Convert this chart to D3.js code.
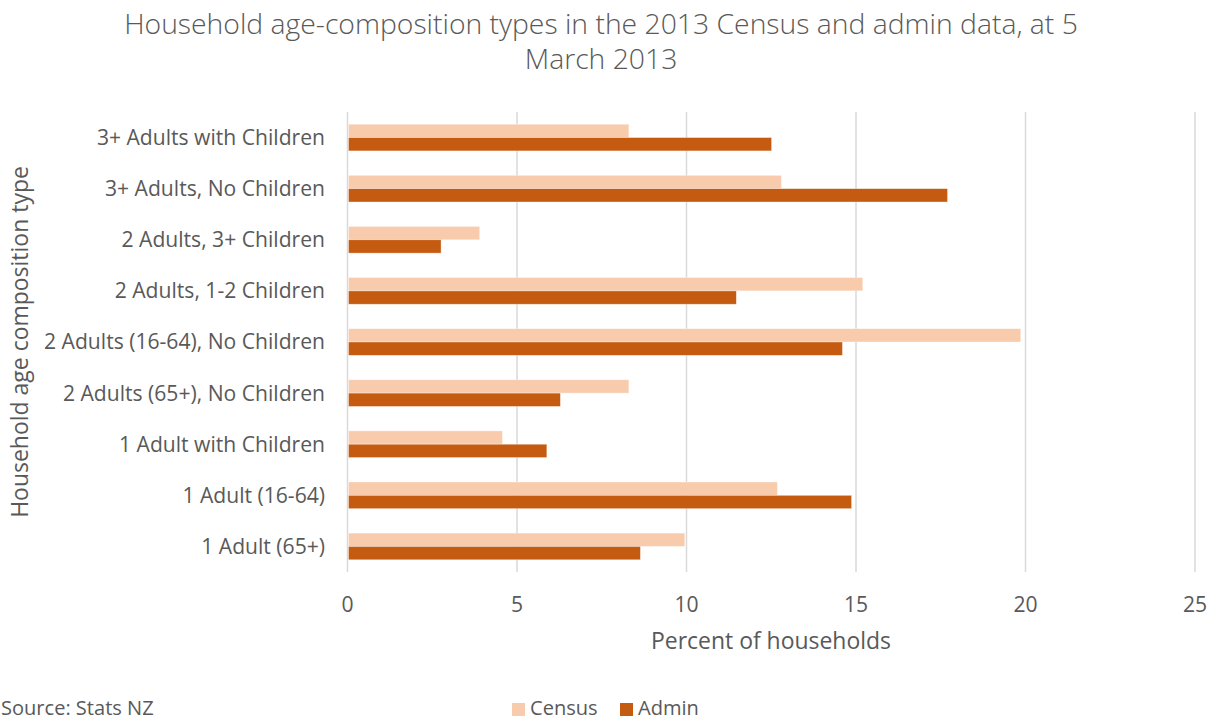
<!DOCTYPE html>
<html><head><meta charset="utf-8">
<script src="https://cdn.jsdelivr.net/npm/d3@7"></script>
<style>body{margin:0;background:#fff}svg{display:block}</style>
</head><body>
<svg id="c" width="1217" height="722"></svg>
<script>
const categories = ["3+ Adults with Children","3+ Adults, No Children","2 Adults, 3+ Children","2 Adults, 1-2 Children","2 Adults (16-64), No Children","2 Adults (65+), No Children","1 Adult with Children","1 Adult (16-64)","1 Adult (65+)"];
const census = [8.3, 12.8, 3.9, 15.2, 19.86, 8.3, 4.57, 12.68, 9.95];
const admin  = [12.51, 17.7, 2.76, 11.47, 14.6, 6.28, 5.88, 14.87, 8.64];
const seriesNames = ["Census","Admin"];
const xTicks = [0,5,10,15,20,25];
const colors = {Census:"#F8CBAD", Admin:"#C55A11"};
const FONT = "'Open Sans', sans-serif";
const TXT = "#595959";

const svg = d3.select("#c");
const m = {l:347.5, r:1195, t:112, b:572};
const x = d3.scaleLinear().domain([0,25]).range([m.l, m.r]);
const y = d3.scaleBand().domain(categories).range([m.t, m.b]).paddingInner(0.478).paddingOuter(0.239);
const ys = d3.scaleBand().domain(seriesNames).range([0, y.bandwidth()]);

function fit(sel, target){
  const w = sel.node().getComputedTextLength();
  const fs = parseFloat(sel.attr("font-size"));
  sel.attr("font-size", fs*target/w);
  return fs*target/w;
}

// gridlines
svg.append("g").selectAll("line").data(xTicks).join("line")
  .attr("x1", d=>x(d)).attr("x2", d=>x(d)).attr("y1", m.t).attr("y2", m.b)
  .attr("stroke","#D9D9D9").attr("stroke-width",1.5);

// bars
const data = categories.map((c,i)=>({c, vals:[{s:"Census",v:census[i]},{s:"Admin",v:admin[i]}]}));
const g = svg.append("g");
g.selectAll("g").data(data).join("g")
  .attr("transform", d=>`translate(0,${y(d.c)})`)
  .selectAll("rect").data(d=>d.vals).join("rect")
  .attr("x", x(0)+1).attr("y", d=>ys(d.s))
  .attr("width", d=>x(d.v)-x(0)-1).attr("height", ys.bandwidth())
  .attr("fill", d=>colors[d.s]).attr("stroke","#fff").attr("stroke-opacity",0.5).attr("stroke-width",0.7);

// y labels
const yl = svg.append("g").attr("font-family",FONT).attr("fill",TXT);
const probe = yl.append("text").attr("font-size",19).text("2 Adults (16-64), No Children");
const yfs = fit(probe, 281); probe.remove();
yl.selectAll("text").data(categories).join("text")
  .attr("x", 325).attr("y", d=>y(d)+y.bandwidth()/2).attr("dy","0.35em")
  .attr("text-anchor","end").attr("font-size", yfs).text(d=>d);

// x tick labels
svg.append("g").attr("font-family",FONT).attr("fill",TXT).selectAll("text").data(xTicks).join("text")
  .attr("x", d=>x(d)).attr("y", 612).attr("text-anchor","middle").attr("font-size", yfs).text(d=>d);

// axis titles
const xt = svg.append("text").attr("font-family",FONT).attr("fill",TXT).attr("font-size",21)
  .attr("x", 771).attr("y", 649).attr("text-anchor","middle").text("Percent of households");
fit(xt, 240);
const yt = svg.append("text").attr("font-family",FONT).attr("fill",TXT).attr("font-size",21)
  .attr("transform","translate(28,342) rotate(-90)").attr("text-anchor","middle").text("Household age composition type");
fit(yt, 352);

// title
const t1 = svg.append("text").attr("font-family",FONT).attr("font-weight",300).attr("fill",TXT).attr("font-size",26)
  .attr("x", 601).attr("y", 34).attr("text-anchor","middle").text("Household age-composition types in the 2013 Census and admin data, at 5");
const tfs = fit(t1, 954);
svg.append("text").attr("font-family",FONT).attr("font-weight",300).attr("fill",TXT).attr("font-size",tfs)
  .attr("x", 601).attr("y", 69).attr("text-anchor","middle").text("March 2013");

// legend
const lg = svg.append("g").attr("font-family",FONT).attr("fill",TXT);
const legX = [512, 620];
seriesNames.forEach((s,i)=>{
  lg.append("rect").attr("x", legX[i]).attr("y", 703).attr("width",13).attr("height",13).attr("fill",colors[s]);
  lg.append("text").attr("x", legX[i]+18).attr("y", 715).attr("font-size", yfs*0.95).text(s);
});

// source
svg.append("text").attr("font-family",FONT).attr("fill",TXT).attr("font-size", yfs*0.95)
  .attr("x", 1).attr("y", 715).text("Source: Stats NZ");
</script>
</body></html>
